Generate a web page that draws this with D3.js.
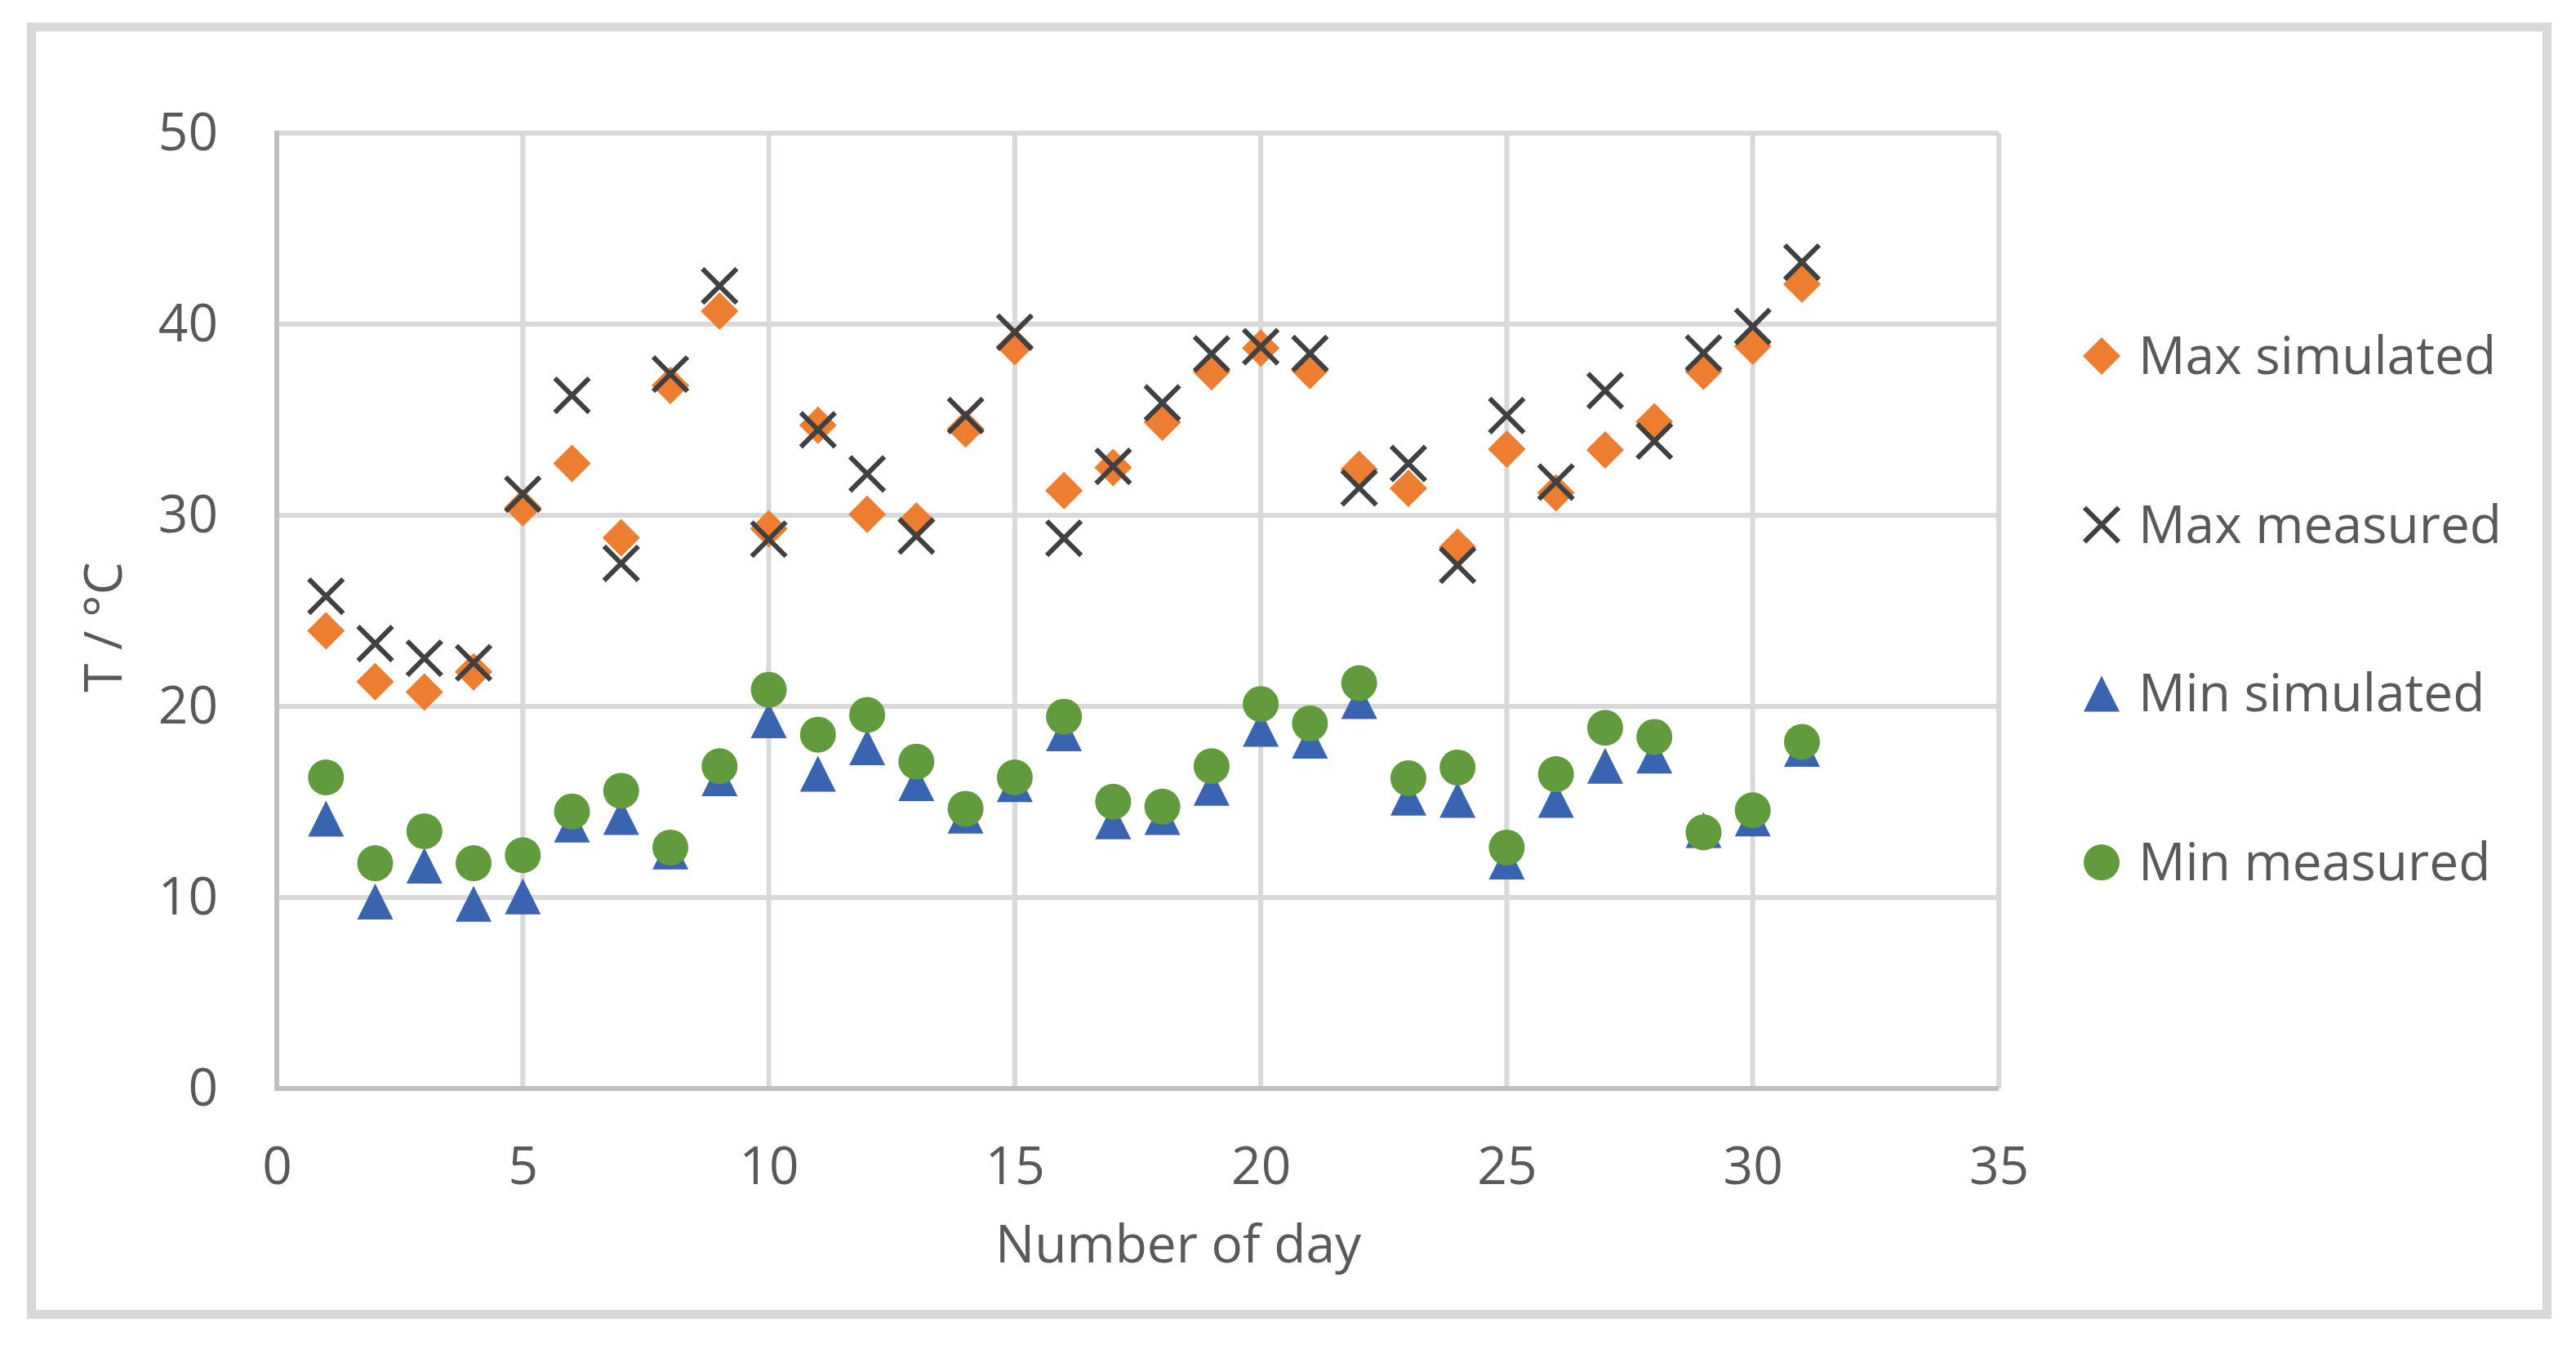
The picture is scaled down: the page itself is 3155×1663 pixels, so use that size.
<!DOCTYPE html>
<html>
<head>
<meta charset="utf-8">
<script src="https://cdn.jsdelivr.net/npm/d3@7"></script>
<style>
  body { margin: 0; background: #fff; }
  text { font-family: "Open Sans", Lato, sans-serif; fill: #595959; }
</style>
</head>
<body>
<div id="chart"></div>
<script>
// data
const days = d3.range(1, 32);
const maxSimulated = [23.95, 21.29, 20.75, 21.81, 30.4, 32.71, 28.82, 36.8, 40.68, 29.3, 34.71, 30.05, 29.7, 34.52, 38.82, 31.29, 32.5, 34.87, 37.51, 38.75, 37.58, 32.4, 31.41, 28.33, 33.46, 31.18, 33.42, 34.89, 37.53, 38.85, 42.09];
const maxMeasured = [25.76, 23.29, 22.52, 22.28, 31.11, 36.28, 27.48, 37.39, 42.0, 28.75, 34.47, 32.16, 28.92, 35.22, 39.58, 28.8, 32.56, 35.88, 38.45, 38.82, 38.47, 31.44, 32.71, 27.39, 35.22, 31.74, 36.52, 33.88, 38.49, 39.88, 43.24];
const minSimulated = [14.12, 9.79, 11.67, 9.67, 10.05, 13.81, 14.21, 12.4, 16.24, 19.27, 16.47, 17.86, 15.98, 14.28, 15.93, 18.59, 13.98, 14.21, 15.74, 18.82, 18.21, 20.28, 15.22, 15.11, 11.88, 15.11, 16.89, 17.42, 13.53, 14.13, 17.78];
const minMeasured = [16.28, 11.79, 13.46, 11.79, 12.21, 14.5, 15.58, 12.61, 16.87, 20.87, 18.52, 19.55, 17.11, 14.64, 16.28, 19.46, 15.01, 14.75, 16.87, 20.12, 19.11, 21.22, 16.24, 16.8, 12.61, 16.45, 18.88, 18.4, 13.41, 14.56, 18.14];

const seriesNames = ["Max simulated", "Max measured", "Min simulated", "Min measured"];
const xTicks = [0, 5, 10, 15, 20, 25, 30, 35];
const yTicks = [0, 10, 20, 30, 40, 50];

const width = 3155;
const height = 1663;
const margin = ({ top: 163, right: 707, bottom: 330, left: 339 });

// marker shapes, 44px box like the original
const diamond = { draw(ctx, size) { const r = Math.sqrt(size) / 2; ctx.moveTo(0, -r); ctx.lineTo(r, 0); ctx.lineTo(0, r); ctx.lineTo(-r, 0); ctx.closePath(); } };
const triangle = { draw(ctx, size) { const r = Math.sqrt(size) / 2; ctx.moveTo(0, -r); ctx.lineTo(r, r); ctx.lineTo(-r, r); ctx.closePath(); } };
const cross = { draw(ctx, size) { const r = Math.sqrt(size) / 2; ctx.moveTo(-r, -r); ctx.lineTo(r, r); ctx.moveTo(r, -r); ctx.lineTo(-r, r); } };

const series = [
    { name: seriesNames[0], values: maxSimulated, type: diamond, fill: "#ED7D31", stroke: "none", size: 46 * 46 },
    { name: seriesNames[1], values: maxMeasured, type: cross, fill: "none", stroke: "#404040", size: 42 * 42 },
    { name: seriesNames[2], values: minSimulated, type: triangle, fill: "#3A64B0", stroke: "none", size: 44 * 44 },
    { name: seriesNames[3], values: minMeasured, type: d3.symbolCircle, fill: "#629A3E", stroke: "none", size: Math.PI * 22 * 22 }
];

const svg = d3.select("#chart")
    .append("svg")
    .attr("width", width)
    .attr("height", height)
    .attr("viewBox", `0 0 ${width} ${height}`);

// chart border
svg.append("path")
    .attr("fill", "none")
    .attr("stroke", "#d9d9d9")
    .attr("stroke-width", 11)
    .attr("d", `M38.5,1609.5 V33 H3119.5 V1609.5 Z`);

const x = d3.scaleLinear()
    .domain([0, 35])
    .range([margin.left, width - margin.right]);

const y = d3.scaleLinear()
    .domain([0, 50])
    .range([height - margin.bottom, margin.top]);

// gridlines
svg.append("g")
    .attr("stroke", "#d9d9d9")
    .attr("stroke-width", 6)
    .call(g => g.selectAll(".gy")
        .data(yTicks.filter(t => t > 0))
        .join("line")
        .attr("class", "gy")
        .attr("x1", x(0)).attr("x2", x(35))
        .attr("y1", d => y(d)).attr("y2", d => y(d)))
    .call(g => g.selectAll(".gx")
        .data(xTicks.filter(t => t > 0))
        .join("line")
        .attr("class", "gx")
        .attr("y1", y(0)).attr("y2", y(50))
        .attr("x1", d => x(d)).attr("x2", d => x(d)));

// axis lines
svg.append("line")
    .attr("x1", x(0)).attr("x2", x(0))
    .attr("y1", y(0) + 3).attr("y2", y(50) - 3)
    .attr("stroke", "#bfbfbf").attr("stroke-width", 6);
svg.append("line")
    .attr("x1", x(0) - 3).attr("x2", x(35))
    .attr("y1", y(0)).attr("y2", y(0))
    .attr("stroke", "#bfbfbf").attr("stroke-width", 6);

// tick labels via d3 axes, lines hidden
const xAxis = g => g
    .attr("transform", `translate(0,${y(0)})`)
    .call(d3.axisBottom(x).tickValues(xTicks).tickSize(0).tickPadding(72))
    .call(g => g.select(".domain").remove())
    .call(g => g.selectAll("text").attr("font-size", 64).attr("fill", "#595959").attr("font-family", "Open Sans"));

const yAxis = g => g
    .attr("transform", `translate(${x(0)},0)`)
    .call(d3.axisLeft(y).tickValues(yTicks).tickSize(0).tickPadding(72))
    .call(g => g.select(".domain").remove())
    .call(g => g.selectAll("text").attr("font-size", 64).attr("fill", "#595959").attr("font-family", "Open Sans"));

svg.append("g").call(xAxis);
svg.append("g").call(yAxis);

// axis titles
svg.append("text")
    .attr("x", 1443)
    .attr("y", 1546)
    .attr("text-anchor", "middle")
    .attr("font-size", 64)
    .text("Number of day");

svg.append("text")
    .attr("transform", `translate(149,768) rotate(-90)`)
    .attr("text-anchor", "middle")
    .attr("font-size", 64)
    .text("T / °C");

// points
series.forEach(s => {
    svg.append("g")
        .selectAll("path")
        .data(s.values.map((v, i) => [days[i], v]))
        .join("path")
        .attr("transform", d => `translate(${x(d[0])},${y(d[1])})`)
        .attr("d", d3.symbol(s.type, s.size))
        .attr("fill", s.fill)
        .attr("stroke", s.stroke)
        .attr("stroke-width", 6);
});

// legend
const legend = svg.append("g")
    .attr("transform", "translate(2574,436)");

const rows = legend.selectAll("g")
    .data(series)
    .join("g")
    .attr("transform", (d, i) => `translate(0,${i * 206.7})`);

rows.append("path")
    .attr("d", d => d3.symbol(d.type, d.size)())
    .attr("fill", d => d.fill)
    .attr("stroke", d => d.stroke)
    .attr("stroke-width", 6);

rows.append("text")
    .attr("x", 45)
    .attr("y", 22)
    .attr("font-size", 64)
    .text(d => d.name);
</script>
</body>
</html>
